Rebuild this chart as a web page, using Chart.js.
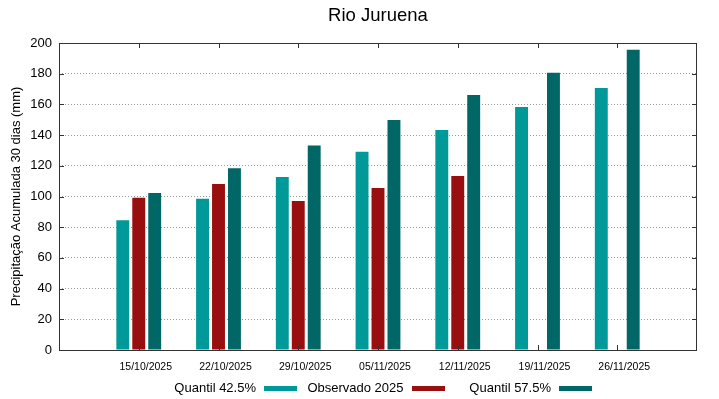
<!DOCTYPE html>
<html>
<head>
<meta charset="utf-8">
<script src="https://cdn.jsdelivr.net/npm/chart.js@4"></script>
<style>
  html, body { margin: 0; padding: 0; background: #fff; }
  #wrap { position: relative; width: 719px; height: 399px; font-family: 'Liberation Sans', Arial, sans-serif; }
  #legend { position: absolute; left: 149.5px; top: 380px; display: flex; }
  .item { width: 147.5px; height: 16px; line-height: 16px; display: flex; justify-content: flex-end; align-items: center; font-size: 13px; color: #000; }
  .sw { width: 33px; height: 5px; margin-left: 8px; }
</style>
</head>
<body>
<div id="wrap">
  <canvas id="chart" width="719" height="399"></canvas>
  <div id="legend"></div>
</div>
<script>
// Rio Juruena - precipitação acumulada 30 dias
const dates = ['15/10/2025', '22/10/2025', '29/10/2025', '05/11/2025', '12/11/2025', '19/11/2025', '26/11/2025'];
const q425 = [84.5, 98.6, 112.7, 129.2, 143.3, 158.3, 170.7];
const observado = [99.2, 108.1, 97.1, 105.5, 113.4, null, null];
const q575 = [102.3, 118.4, 133.3, 149.8, 166.1, 180.7, 195.6];
const seriesNames = ['Quantil 42.5%', 'Observado 2025', 'Quantil 57.5%'];
const colors = ['#009999', '#990f0f', '#006666'];
const yTicks = { min: 0, max: 200, step: 20 };

// empty slot on each side, like the original plot
const labels = [''].concat(dates, ['']);
const pad = arr => [null].concat(arr, [null]);

const font = "'Liberation Sans', Arial, sans-serif";

const frame = {
    id: 'frame',
    afterDraw(chart) {
        const { ctx, chartArea: a, scales } = chart;
        ctx.save();
        ctx.strokeStyle = '#333';
        ctx.lineWidth = 1;
        ctx.strokeRect(a.left + 0.5, a.top + 0.5, a.right - a.left - 1, a.bottom - a.top);
        ctx.beginPath();
        for (let i = 1; i <= dates.length; i++) {
            const x = Math.round(scales.x.getPixelForValue(i)) + 0.5;
            ctx.moveTo(x, a.top); ctx.lineTo(x, a.top + 5);
            ctx.moveTo(x, a.bottom); ctx.lineTo(x, a.bottom - 5);
        }
        for (let v = yTicks.min + yTicks.step; v < yTicks.max; v += yTicks.step) {
            const y = Math.round(scales.y.getPixelForValue(v)) + 0.5;
            ctx.moveTo(a.left, y); ctx.lineTo(a.left + 5, y);
            ctx.moveTo(a.right, y); ctx.lineTo(a.right - 5, y);
        }
        ctx.stroke();
        // title centred over the plot
        ctx.fillStyle = '#000';
        ctx.font = '18.5px ' + font;
        ctx.textAlign = 'center';
        ctx.textBaseline = 'alphabetic';
        ctx.fillText('Rio Juruena', (a.left + a.right) / 2, 21);
        ctx.restore();
    }
};

new Chart(document.getElementById('chart'), {
    type: 'bar',
    data: {
        labels,
        datasets: [
            { label: seriesNames[0], data: pad(q425), backgroundColor: colors[0] },
            { label: seriesNames[1], data: pad(observado), backgroundColor: colors[1] },
            { label: seriesNames[2], data: pad(q575), backgroundColor: colors[2] }
        ]
    },
    options: {
        responsive: false,
        animation: false,
        layout: { padding: { top: 43, right: 22, bottom: 19, left: 0 } },
        datasets: { bar: { barPercentage: 0.81, categoryPercentage: 0.6 } },
        scales: {
            x: {
                offset: false,
                grid: { drawOnChartArea: false, drawTicks: false },
                border: { display: false },
                ticks: { color: '#000', font: { size: 10.5, family: font }, padding: 11, labelOffset: 7, autoSkip: false, maxRotation: 0 },
                afterFit(s) { s.height = 30; }
            },
            y: {
                min: yTicks.min, max: yTicks.max,
                grid: {
                    drawTicks: false,
                    color: c => (c.tick.value === yTicks.min || c.tick.value === yTicks.max) ? 'rgba(0,0,0,0)' : '#999'
                },
                border: { display: false, dash: [1, 2] },
                ticks: { stepSize: yTicks.step, color: '#000', font: { size: 13, family: font }, padding: 7 },
                title: { display: true, text: 'Precipitação Acumulada 30 dias (mm)', color: '#000', font: { size: 13, family: font }, padding: { top: 9, bottom: 0 } },
                afterFit(s) { s.width = 59; }
            }
        },
        plugins: { legend: { display: false }, tooltip: { enabled: false } }
    },
    plugins: [frame]
});

const legend = document.getElementById('legend');
seriesNames.forEach((name, i) => {
    const d = document.createElement('div');
    d.className = 'item';
    d.innerHTML = '<span>' + name + '</span><span class="sw" style="background:' + colors[i] + '"></span>';
    legend.appendChild(d);
});
</script>
</body>
</html>
